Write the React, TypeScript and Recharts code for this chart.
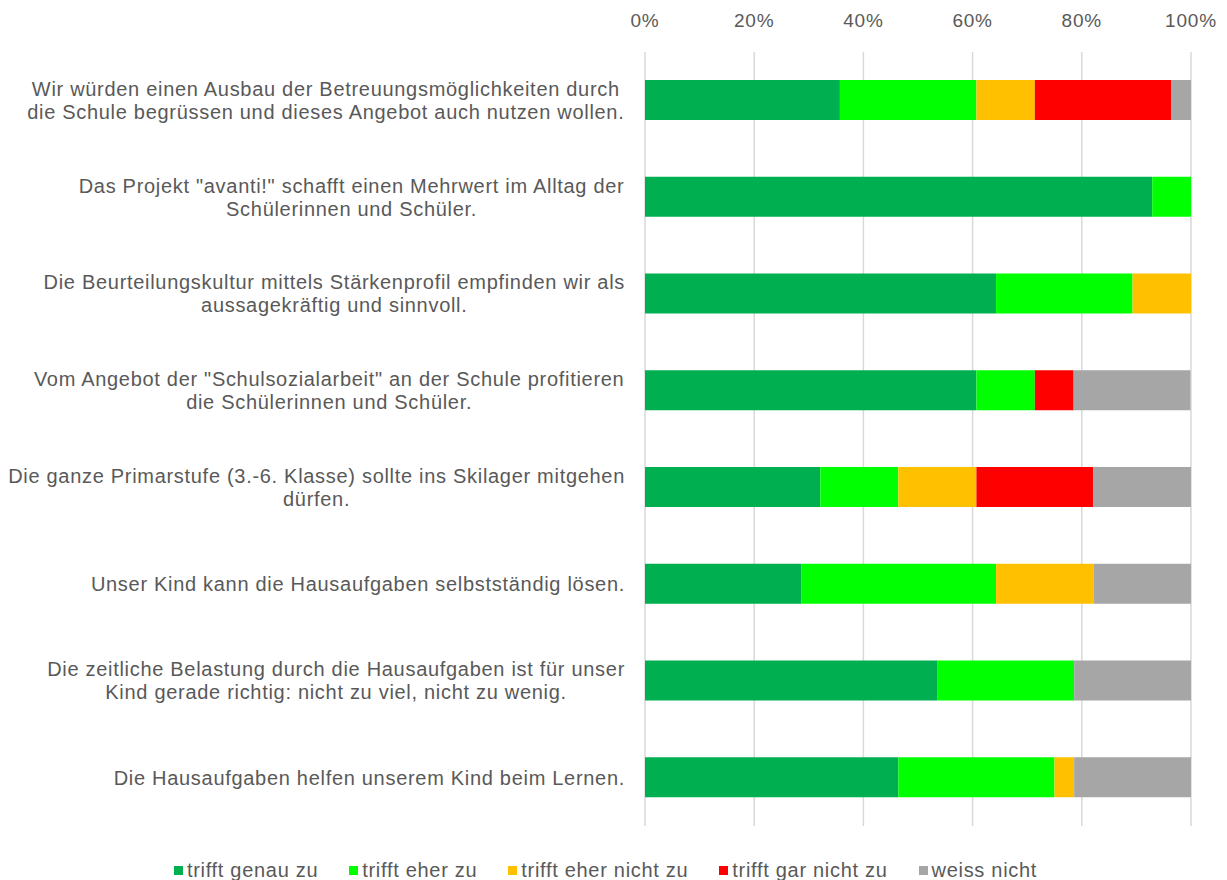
import React from 'react';
import { BarChart, Bar, XAxis, YAxis, CartesianGrid, Legend } from 'recharts';

// survey statements (line breaks as in the original chart)
const statements = [
  'Wir würden einen Ausbau der Betreuungsmöglichkeiten durch\ndie Schule begrüssen und dieses Angebot auch nutzen wollen.',
  'Das Projekt "avanti!" schafft einen Mehrwert im Alltag der\nSchülerinnen und Schüler.',
  'Die Beurteilungskultur mittels Stärkenprofil empfinden wir als\naussagekräftig und sinnvoll.',
  'Vom Angebot der "Schulsozialarbeit" an der Schule profitieren\ndie Schülerinnen und Schüler.',
  'Die ganze Primarstufe (3.-6. Klasse) sollte ins Skilager mitgehen\ndürfen.',
  'Unser Kind kann die Hausaufgaben selbstständig lösen.',
  'Die zeitliche Belastung durch die Hausaufgaben ist für unser\nKind gerade richtig: nicht zu viel, nicht zu wenig.',
  'Die Hausaufgaben helfen unserem Kind beim Lernen.',
];

// shares in percent
const trifftGenau = [35.7, 92.9, 64.3, 60.7, 32.1, 28.6, 53.6, 46.4];
const trifftEher = [25.0, 7.1, 25.0, 10.7, 14.3, 35.7, 25.0, 28.6];
const trifftEherNicht = [10.7, 0, 10.7, 0, 14.3, 17.9, 0, 3.6];
const trifftGarNicht = [25.0, 0, 0, 7.1, 21.4, 0, 0, 0];
const weissNicht = [3.6, 0, 0, 21.4, 17.9, 17.9, 21.4, 21.4];

const xTicks = [0, 20, 40, 60, 80, 100];

const series = [
  { key: 'genau', name: 'trifft genau zu', color: '#00B050' },
  { key: 'eher', name: 'trifft eher zu', color: '#00FF00' },
  { key: 'eherNicht', name: 'trifft eher nicht zu', color: '#FFC000' },
  { key: 'garNicht', name: 'trifft gar nicht zu', color: '#FF0000' },
  { key: 'weiss', name: 'weiss nicht', color: '#A6A6A6' },
];

const chartData = statements.map((s, i) => ({
  name: s,
  genau: trifftGenau[i],
  eher: trifftEher[i],
  eherNicht: trifftEherNicht[i],
  garNicht: trifftGarNicht[i],
  weiss: weissNicht[i],
}));

const FONT = '"Liberation Sans", Arial, sans-serif';
const TEXT = '#595959';
const LABEL_SIZE = 20;
const LABEL_SPACING = 0.7;

let ctx: CanvasRenderingContext2D | null = null;
const measure = (t: string) => {
  if (!ctx) {
    ctx = document.createElement('canvas').getContext('2d');
  }
  const base = ctx ? (() => {
    ctx!.font = `${LABEL_SIZE}px ${FONT}`;
    return ctx!.measureText(t).width;
  })() : t.length * LABEL_SIZE * 0.5;
  return base + t.length * LABEL_SPACING;
};

const CategoryTick = (props: any) => {
  const { x, y, payload } = props;
  const lines: string[] = String(payload.value).split('\n');
  const w = Math.max(...lines.map(measure));
  const cx = x - w / 2;
  const lh = 23;
  const start = y - ((lines.length - 1) * lh) / 2;
  return (
    <g>
      {lines.map((l, i) => (
        <text
          key={i}
          x={cx}
          y={start + i * lh + 7}
          textAnchor="middle"
          fill={TEXT}
          fontSize={LABEL_SIZE}
          fontFamily={FONT}
          letterSpacing={LABEL_SPACING}
        >
          {l}
        </text>
      ))}
    </g>
  );
};

const PercentTick = (props: any) => {
  const { x, payload } = props;
  return (
    <text
      x={x}
      y={19}
      textAnchor="middle"
      fill={TEXT}
      fontSize={19}
      fontFamily={FONT}
      letterSpacing={0.8}
    >
      {payload.value}%
    </text>
  );
};

const renderLegend = () => (
  <div
    style={{
      display: 'flex',
      justifyContent: 'center',
      gap: 31,
      height: 24,
      alignItems: 'center',
      fontFamily: FONT,
      fontSize: 20,
      letterSpacing: 0.7,
      color: TEXT,
    }}
  >
    {series.map(s => (
      <div key={s.key} style={{ display: 'flex', alignItems: 'center' }}>
        <span style={{ width: 9, height: 9, background: s.color, marginRight: 4, display: 'inline-block' }} />
        <span>{s.name}</span>
      </div>
    ))}
  </div>
);

export default function App() {
  return (
    <BarChart
      width={1219}
      height={872}
      data={chartData}
      layout="vertical"
      margin={{ top: 0, right: 36, left: 0, bottom: 30 }}
    >
      <CartesianGrid horizontal={false} stroke="#D9D9D9" strokeWidth={1.5} />
      <XAxis
        type="number"
        orientation="top"
        domain={[0, 100]}
        ticks={xTicks}
        allowDataOverflow
        height={44}
        axisLine={false}
        tickLine={false}
        tick={<PercentTick />}
      />
      <YAxis
        type="category"
        dataKey="name"
        width={637}
        axisLine={false}
        tickLine={false}
        tickSize={0}
        tickMargin={20}
        interval={0}
        tick={<CategoryTick />}
      />
      <Legend
        verticalAlign="bottom"
        content={renderLegend}
        wrapperStyle={{ top: 850, bottom: 'auto', left: -12, width: 1219 }}
      />
      {series.map(s => (
        <Bar
          key={s.key}
          dataKey={s.key}
          name={s.name}
          stackId="a"
          fill={s.color}
          barSize={40}
          isAnimationActive={false}
        />
      ))}
    </BarChart>
  );
}
